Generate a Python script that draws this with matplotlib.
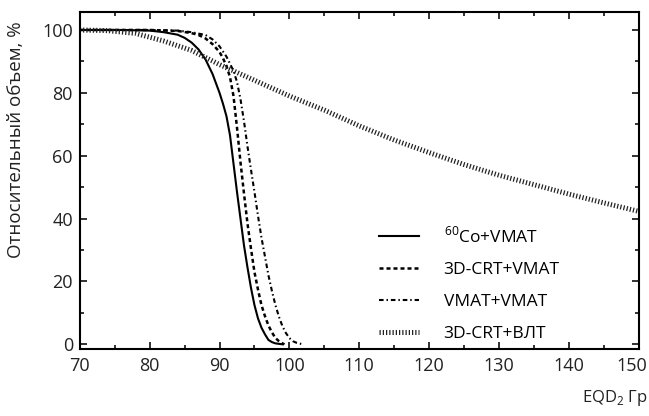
import matplotlib
matplotlib.use("Agg")
import matplotlib.pyplot as plt
import matplotlib.transforms as mtransforms
from matplotlib.ticker import MultipleLocator

plt.rcParams['font.family'] = ['Open Sans', 'DejaVu Sans']
plt.rcParams['mathtext.fontset'] = 'custom'
plt.rcParams['mathtext.rm'] = 'Open Sans'

# dose (EQD2, Gy) and relative volume (%)
co_dose = [70, 76, 80, 82, 84, 85, 86, 87, 88, 89, 90, 90.5, 91, 91.5, 92, 92.5,
           93, 93.5, 94, 94.5, 95, 95.5, 96, 96.5, 97, 97.5, 98, 99]
co_vol = [100, 100, 99.8, 99.3, 98.5, 97.5, 96, 93.8, 90.6, 86, 80, 76.5, 72.5, 66.5,
          57.5, 48.5, 40, 31.5, 24.5, 18, 12.5, 8.3, 5.3, 3.2, 1.4, 0.7, 0.3, 0]

crt_dose = [70, 76, 80, 84, 86, 87, 88, 89, 90, 90.5, 91, 91.5, 92, 92.5, 93, 93.5,
            94, 94.5, 95, 95.5, 96, 96.5, 97, 97.5, 98, 98.5, 99, 99.3]
crt_vol = [100, 100, 100, 99.7, 99, 98.4, 97.3, 95.5, 93, 91, 88.5, 85, 79, 69, 58,
           48, 38.5, 30.5, 23, 17.5, 12.5, 9, 6, 3.8, 2, 1, 0.3, 0]

vmat_dose = [70, 76, 80, 84, 86, 88, 89, 90, 91, 92, 92.5, 93, 93.5, 94, 94.5, 95,
             95.5, 96, 96.5, 97, 97.5, 98, 98.5, 99, 99.5, 100, 100.5, 101, 101.9]
vmat_vol = [100, 100, 100, 99.8, 99.3, 98.4, 97, 94.8, 91.5, 87, 83.5, 78, 71, 63,
            55.6, 48.5, 41, 34, 28, 22, 17, 12.5, 8.8, 5.8, 3.6, 2, 1, 0.5, 0]

vlt_dose = [70, 74, 78, 82, 86, 90, 95, 100, 105, 110, 115, 120, 125, 130, 135,
            140, 145, 150]
vlt_vol = [100, 99.8, 98.9, 96.5, 93.5, 89, 84, 79, 74.5, 69.5, 65, 61, 57.2, 53.8,
           50.8, 47.8, 45, 42.3]

labels = [r'$^{60}$Co+VMAT', '3D-CRT+VMAT', 'VMAT+VMAT', '3D-CRT+ВЛТ']

fig = plt.figure(figsize=(6.49, 4.16), dpi=100)
ax = fig.add_axes([0.123, 0.161, 0.861, 0.81])

ax.plot(co_dose, co_vol, color='black', lw=1.5, label=labels[0])
ax.plot(crt_dose, crt_vol, color='black', lw=1.8,
        linestyle=(0, (1.6, 1.2)), label=labels[1])
ax.plot(vmat_dose, vmat_vol, color='black', lw=1.5,
        linestyle=(0, (2.2, 1.4, 0.7, 1.4)), label=labels[2])
ax.plot(vlt_dose, vlt_vol, color='#222222', lw=3.6,
        linestyle=(0, (0.25, 0.4)), label=labels[3])

ax.set_xlim(70, 150)
ax.set_ylim(-1.5, 105.7)
ax.set_xticks(range(70, 151, 10))
ax.set_yticks(range(0, 101, 20))
ax.xaxis.set_minor_locator(MultipleLocator(5))
ax.yaxis.set_minor_locator(MultipleLocator(10))
ax.tick_params(which='both', direction='in', top=True, right=True,
               labelsize=13, width=1.3, colors='#222222')
ax.tick_params(which='major', length=5)
ax.tick_params(which='minor', length=3)
ax.tick_params(axis='x', pad=6)
ax.tick_params(axis='y', pad=5)
for spine in ax.spines.values():
    spine.set_linewidth(1.5)

# last x label sits flush with the right edge, as in the original
fig.canvas.draw()
last = ax.get_xticklabels()[-1]
last.set_ha('right')
last.set_transform(last.get_transform() +
                   mtransforms.ScaledTranslation(9 / 100, 0, fig.dpi_scale_trans))

ax.set_ylabel('Относительный объем, %', fontsize=13.5, color='#222222')
ax.yaxis.set_label_coords(-0.098, 0.62)
fig.text(0.998, 0.043, r'EQD$_2$ Гр', ha='right', va='center', fontsize=12,
         color='#222222')

ax.legend(loc='lower left', bbox_to_anchor=(0.508, -0.025), frameon=False,
          fontsize=12.5, handlelength=2.3, labelspacing=0.9, handletextpad=1.4)

fig.savefig('out.png', dpi=100)
